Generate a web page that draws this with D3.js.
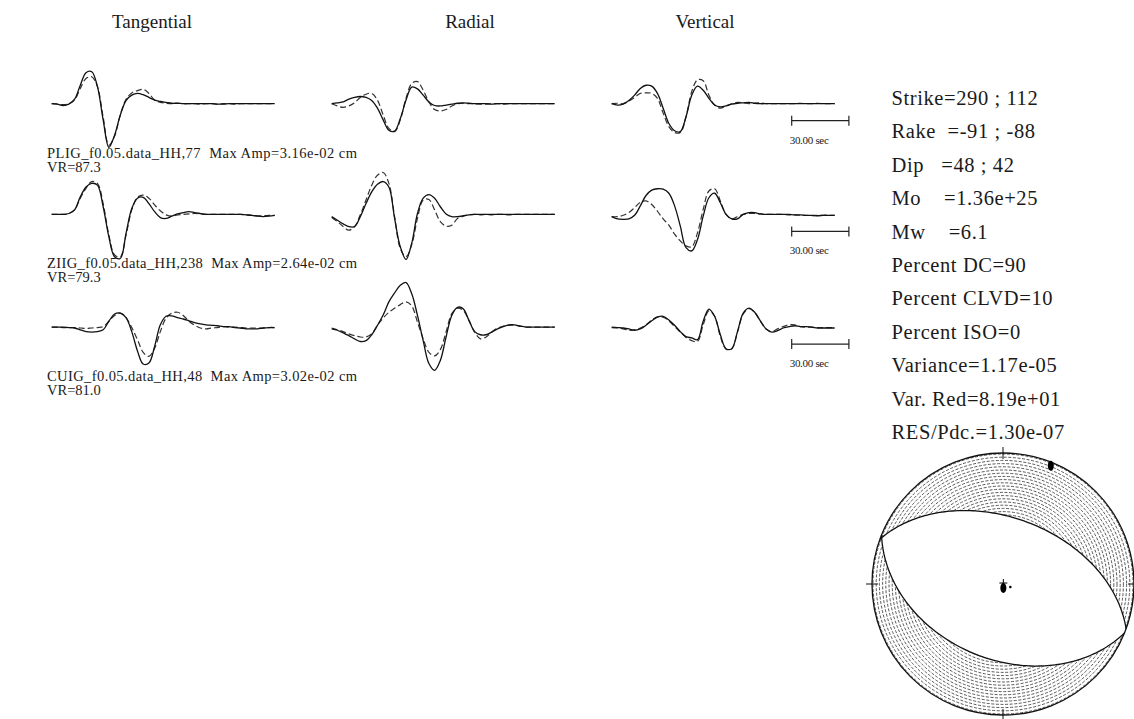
<!DOCTYPE html>
<html>
<head>
<meta charset="utf-8">
<script src="https://cdn.jsdelivr.net/npm/d3@7"></script>
<style>
  body { margin: 0; background: #fff; }
  svg text { font-family: "Liberation Serif", "Times New Roman", serif; fill: #1a1a1a; white-space: pre; }
</style>
</head>
<body>
<div class="container"></div>
<script>
// components, stations and fit info
const components = ["Tangential", "Radial", "Vertical"]
const stationLabels = ["PLIG_f0.05.data_HH,77", "ZIIG_f0.05.data_HH,238", "CUIG_f0.05.data_HH,48"]
const maxAmps = ["3.16e-02", "2.64e-02", "3.02e-02"]
const varRed = ["87.3", "79.3", "81.0"]

// sample times (sec) and normalized amplitudes (fraction of Max Amp)
const sampleTimes = [0,3,6,9,12,15,18,21,24,27,30,33,36,39,42,45,48,51,54,57,60,63,66,69,72,75,78,81,84,87,90,93,96,99,102,105,108,111,114,117]

const pligTObs = [0,-0.01,-0.04,-0.01,0.10,0.41,0.69,0.71,0.38,-0.36, -0.97,-0.70,-0.25,0.07,0.19,0.23,0.20,0.14,0.08,0.05, 0.03,0.01,0.01,0,0,0,0,0,0,-0.01, -0.01,0,0,0,0,0,0,0,0,0]
const pligTSyn = [0,-0.01,-0.02,0,0.08,0.34,0.56,0.60,0.38,-0.30, -0.92,-0.72,-0.25,0.10,0.24,0.29,0.32,0.23,0.08,0.03, 0.01,0,0.01,0,0,0,-0.01,0,0,-0.01, 0,0,-0.01,0,0,0,0,0,0,0]
const pligRObs = [0,0.02,0.04,0.10,0.14,0.16,0.14,0.07,-0.10,-0.36, -0.59,-0.61,-0.33,0.08,0.37,0.33,0.19,0.04,-0.04,-0.05, -0.03,-0.01,0.01,0.02,0.01,0,0,0,-0.01,0, 0,0,0,0,0,0,0,0,0,0]
const pligRSyn = [0,-0.05,-0.08,-0.05,0.02,0.14,0.21,0.23,0.08,-0.25, -0.55,-0.62,-0.36,0.12,0.45,0.49,0.30,0.04,-0.13,-0.16, -0.13,-0.05,0,0.01,0,0,-0.01,-0.01,0,0, -0.01,0,0,0,0,0,0,0,0,0]
const pligZObs = [0,-0.03,-0.01,0.07,0.19,0.34,0.41,0.39,0.23,-0.10, -0.44,-0.60,-0.62,-0.29,0.19,0.39,0.30,0.12,-0.03,-0.07, -0.05,-0.01,0.01,0.02,0.03,0.01,0,0,0,0, 0,0,0,0,0,0,0,0,0,0]
const pligZSyn = [0,0.01,0,0.06,0.14,0.23,0.24,0.23,0.12,-0.21, -0.51,-0.64,-0.64,-0.29,0.27,0.53,0.51,0.19,-0.03,-0.10, -0.05,0,0.03,0.02,0,0.01,0.02,0,0,0, 0,0,0,0.01,0,0,0.01,0,0,0]

const ziigTObs = [0,0,0,0.02,0.10,0.39,0.61,0.69,0.65,0.17, -0.50,-0.94,-0.98,-0.42,0.13,0.36,0.38,0.24,0.06,-0.07, -0.09,-0.04,0.01,0.04,0.06,0.04,0.02,0,0,0, 0,0,0,0,-0.01,-0.02,-0.04,-0.05,-0.04,-0.02]
const ziigTSyn = [0,0,0,0.02,0.10,0.36,0.58,0.73,0.69,0.24, -0.46,-0.90,-0.94,-0.46,0.10,0.38,0.43,0.36,0.21,0.08, -0.01,-0.04,-0.01,0,0.01,0.02,0.01,0,0,0, 0,0,0,0,-0.01,-0.02,-0.03,-0.03,-0.02,-0.02]
const ziigRObs = [-0.05,-0.13,-0.21,-0.27,-0.27,-0.05,0.24,0.50,0.67,0.73, 0.61,-0.09,-0.72,-1.00,-0.64,0.02,0.36,0.44,0.36,0.17, 0.01,-0.05,-0.05,-0.03,-0.01,0,0,0,0,0, 0,0,0,0,0,0,0,0,0,0]
const ziigRSyn = [-0.07,-0.16,-0.27,-0.35,-0.27,-0.01,0.32,0.65,0.87,0.93, 0.69,-0.05,-0.76,-0.94,-0.67,-0.09,0.32,0.33,0.10,-0.16, -0.26,-0.24,-0.09,-0.04,-0.01,0,-0.01,0,-0.01,0, 0,-0.01,0,0,0,0,0,0,0,0]
const ziigZObs = [-0.05,-0.10,-0.11,-0.10,-0.02,0.19,0.42,0.54,0.57,0.56, 0.47,0.19,-0.26,-0.74,-0.81,-0.56,-0.04,0.37,0.47,0.26, 0,-0.10,-0.10,0,0.04,0.04,0.01,0,0,0, 0,0,-0.01,-0.01,-0.02,-0.02,-0.03,-0.02,-0.02,-0.02]
const ziigZSyn = [-0.05,-0.05,-0.02,0.04,0.15,0.27,0.30,0.22,0.07,-0.10, -0.24,-0.44,-0.59,-0.70,-0.72,-0.41,0.11,0.52,0.57,0.30, 0,-0.10,-0.05,0,0.02,0.02,0.01,0,0,0, 0,-0.01,-0.01,-0.02,-0.02,-0.03,-0.02,-0.02,-0.02,-0.02]

const cuigTObs = [0,0,0,-0.01,-0.02,-0.06,-0.10,-0.11,-0.10,-0.06, 0.13,0.29,0.31,0.21,-0.10,-0.53,-0.82,-0.80,-0.43,0.05, 0.24,0.25,0.21,0.18,0.14,0.10,0.07,0.05,0.04,0.03, 0.01,0.01,-0.01,-0.02,-0.04,-0.04,-0.04,-0.02,-0.01,-0.01]
const cuigTSyn = [0,0,-0.01,-0.01,-0.01,-0.02,-0.03,-0.02,-0.01,0.01, 0.13,0.26,0.31,0.21,-0.01,-0.28,-0.56,-0.65,-0.47,-0.10, 0.20,0.31,0.33,0.26,0.13,0.04,-0.02,-0.04,-0.02,-0.01, 0.01,0,0,-0.01,-0.02,-0.02,-0.02,-0.02,-0.01,-0.01]
const cuigRObs = [-0.04,-0.07,-0.13,-0.19,-0.26,-0.32,-0.30,-0.17,0.04,0.27, 0.56,0.76,0.93,0.99,0.74,0.26,-0.30,-0.81,-0.96,-0.74, -0.22,0.26,0.44,0.41,0.15,-0.10,-0.17,-0.17,-0.11,-0.04, 0.01,0.05,0.05,0.02,0,0,0,0,0,0]
const cuigRSyn = [-0.02,-0.06,-0.10,-0.15,-0.19,-0.22,-0.22,-0.15,0.04,0.20, 0.33,0.42,0.50,0.56,0.47,0.11,-0.26,-0.56,-0.64,-0.50, -0.11,0.30,0.42,0.37,0.15,-0.11,-0.26,-0.22,-0.11,-0.02, 0.02,0.04,0.04,0.02,0,0,0,0,0,0]
const cuigZObs = [0,-0.01,-0.02,-0.04,-0.07,-0.04,0.04,0.14,0.22,0.24, 0.16,0.04,-0.10,-0.21,-0.24,-0.28,0.13,0.40,0.24,-0.17, -0.48,-0.48,-0.10,0.31,0.42,0.33,0.14,-0.04,-0.11,-0.08, -0.02,0.01,0.03,0.01,0.01,0,-0.02,-0.02,-0.02,-0.02]
const cuigZSyn = [-0.01,-0.02,-0.04,-0.07,-0.06,-0.02,0.05,0.16,0.23,0.22, 0.14,0.01,-0.11,-0.23,-0.30,-0.32,0.05,0.36,0.24,-0.21, -0.49,-0.48,-0.11,0.29,0.41,0.33,0.13,-0.04,-0.10,-0.04, 0.01,0.05,0.05,0.01,0,0,-0.01,-0.01,-0.01,-0.01]

// [station][component] -> [observed, synthetic]
const traces = [
    [[pligTObs, pligTSyn], [pligRObs, pligRSyn], [pligZObs, pligZSyn]],
    [[ziigTObs, ziigTSyn], [ziigRObs, ziigRSyn], [ziigZObs, ziigZSyn]],
    [[cuigTObs, cuigTSyn], [cuigRObs, cuigRSyn], [cuigZObs, cuigZSyn]]
]

// solution text
const solutionLines = [
    "Strike=290 ; 112", "Rake  =-91 ; -88", "Dip   =48 ; 42", "Mo    =1.36e+25", "Mw    =6.1",
    "Percent DC=90", "Percent CLVD=10", "Percent ISO=0", "Variance=1.17e-05",
    "Var. Red=8.19e+01", "RES/Pdc.=1.30e-07"
]

// focal mechanism
const strikes = [290, 112]
const dips = [48, 42]
const rakes = [-91, -88]
const axes = [
    {name: "T", trend: 22, plunge: 3},
    {name: "P", trend: 175, plunge: 87.5}
]

const scaleBarSec = 30

// ---- layout ----
const width = 1134
const height = 719
const colX = [51.7, 331.7, 611.7]
const rowY = [103.7, 214.4, 327.1]
const traceW = 223
const halfH = 45

const svg = d3.select(".container")
    .append("svg")
    .attr("width", width)
    .attr("height", height)

// column titles
svg.selectAll(".title")
    .data(components)
    .enter()
    .append("text")
    .attr("class", "title")
    .attr("x", (d, i) => [152, 470, 705][i])
    .attr("y", 28)
    .attr("text-anchor", "middle")
    .style("font-size", "19px")
    .text(d => d)

const line = (x, y) => d3.line()
    .x((d, i) => x(sampleTimes[i]))
    .y(d => y(d))
    .curve(d3.curveCatmullRom.alpha(0.5))

traces.forEach((station, r) => {
    const y = d3.scaleLinear().domain([-1, 1]).range([rowY[r] + halfH, rowY[r] - halfH])

    station.forEach((pair, c) => {
        const x = d3.scaleLinear().domain([0, 117]).range([colX[c], colX[c] + traceW])
        const g = svg.append("g")

        g.append("path")
            .attr("d", line(x, y)(pair[1]))
            .attr("fill", "none")
            .attr("stroke", "#333")
            .attr("stroke-width", 1.2)
            .attr("stroke-dasharray", "6,3")

        g.append("path")
            .attr("d", line(x, y)(pair[0]))
            .attr("fill", "none")
            .attr("stroke", "#111")
            .attr("stroke-width", 1.3)
    })

    // station label
    svg.append("text")
        .attr("x", 47)
        .attr("y", rowY[r] + 54)
        .style("font-size", "14.5px")
        .attr("textLength", 310)
        .attr("lengthAdjust", "spacing")
        .text(`${stationLabels[r]}  Max Amp=${maxAmps[r]} cm`)
    svg.append("text")
        .attr("x", 47)
        .attr("y", rowY[r] + 68)
        .style("font-size", "14.5px")
        .text(`VR=${varRed[r]}`)

    // scale bar
    const xs = d3.scaleLinear().domain([0, 117]).range([0, traceW])
    const bx = 791.7
    const by = rowY[r] + 17
    const bar = svg.append("g").attr("stroke", "#222").attr("stroke-width", 1.2)
    bar.append("line").attr("x1", bx).attr("x2", bx + xs(scaleBarSec)).attr("y1", by).attr("y2", by)
    bar.append("line").attr("x1", bx).attr("x2", bx).attr("y1", by - 5).attr("y2", by + 5)
    bar.append("line").attr("x1", bx + xs(scaleBarSec)).attr("x2", bx + xs(scaleBarSec)).attr("y1", by - 5).attr("y2", by + 5)
    svg.append("text")
        .attr("x", bx - 2)
        .attr("y", by + 23)
        .style("font-size", "11px")
        .style("letter-spacing", "-0.3px")
        .text(`${scaleBarSec.toFixed(2)} sec`)
})

// solution text block
svg.selectAll(".sol")
    .data(solutionLines)
    .enter()
    .append("text")
    .attr("class", "sol")
    .attr("x", 891.5)
    .attr("y", (d, i) => 105 + i * 33.4)
    .style("font-size", "20.5px")
    .style("letter-spacing", "0.6px")
    .text(d => d)

// ---- beachball (lower hemisphere, equal area) ----
const cx = 1003, cy = 584, R = 131
const rad = Math.PI / 180
const project = (trend, plunge) => {
    const r = R * Math.SQRT2 * Math.sin((90 - plunge) / 2 * rad)
    return [cx + r * Math.sin(trend * rad), cy - r * Math.cos(trend * rad)]
}
const planePoints = (strike, dip) => d3.range(0, 180.5, 1.5).map(l => {
    const s = [Math.sin(strike * rad), Math.cos(strike * rad), 0]
    const dd = [Math.cos(dip * rad) * Math.sin((strike + 90) * rad), Math.cos(dip * rad) * Math.cos((strike + 90) * rad), Math.sin(dip * rad)]
    const v = s.map((sv, k) => Math.cos(l * rad) * sv + Math.sin(l * rad) * dd[k])
    const plunge = Math.asin(Math.min(1, v[2])) / rad
    const trend = Math.atan2(v[0], v[1]) / rad
    return project(trend, plunge)
})

const bb = svg.append("g")
bb.append("clipPath").attr("id", "ballClip")
    .append("circle").attr("cx", cx).attr("cy", cy).attr("r", R)

// compressional shading: dashed rings
bb.append("g").attr("clip-path", "url(#ballClip)")
    .selectAll("circle")
    .data(d3.range(2, R, 3.2))
    .enter()
    .append("circle")
    .attr("cx", cx).attr("cy", cy).attr("r", d => d)
    .attr("fill", "none")
    .attr("stroke", "#3a3a3a")
    .attr("stroke-width", 0.85)
    .attr("stroke-dasharray", "3,1.6")

// dilatational lens between the nodal planes
const p1 = planePoints(strikes[0], dips[0])
const p2 = planePoints(strikes[1], dips[1])
bb.append("path")
    .attr("d", d3.line()(p1.concat(p2)) + "Z")
    .attr("fill", "#fff")
    .attr("stroke", "none")

;[p1, p2].forEach(p => {
    bb.append("path")
        .attr("d", d3.line()(p))
        .attr("fill", "none")
        .attr("stroke", "#111")
        .attr("stroke-width", 1.3)
})

bb.append("circle")
    .attr("cx", cx).attr("cy", cy).attr("r", R)
    .attr("fill", "none")
    .attr("stroke", "#111")
    .attr("stroke-width", 1.3)

// N, E, S, W ticks
;[0, 90, 180, 270].forEach(az => {
    const a = [cx + (R - 6) * Math.sin(az * rad), cy - (R - 6) * Math.cos(az * rad)]
    const b = [cx + (R + 6) * Math.sin(az * rad), cy - (R + 6) * Math.cos(az * rad)]
    bb.append("line")
        .attr("x1", a[0]).attr("y1", a[1]).attr("x2", b[0]).attr("y2", b[1])
        .attr("stroke", "#111").attr("stroke-width", 1)
})

// P and T axes
axes.forEach(a => {
    const [px, py] = project(a.trend, a.plunge)
    bb.append("ellipse")
        .attr("cx", px).attr("cy", py)
        .attr("rx", 3).attr("ry", 5)
        .attr("fill", "#000")
    if (a.name === "P") {
        bb.append("line").attr("x1", px).attr("x2", px).attr("y1", py - 9).attr("y2", py + 2).attr("stroke", "#000").attr("stroke-width", 1)
        bb.append("line").attr("x1", px - 4).attr("x2", px + 4).attr("y1", py - 5).attr("y2", py - 5).attr("stroke", "#000").attr("stroke-width", 1)
        bb.append("circle").attr("cx", px + 7).attr("cy", py - 1).attr("r", 1.3).attr("fill", "#000")
    }
})
</script>
</body>
</html>
